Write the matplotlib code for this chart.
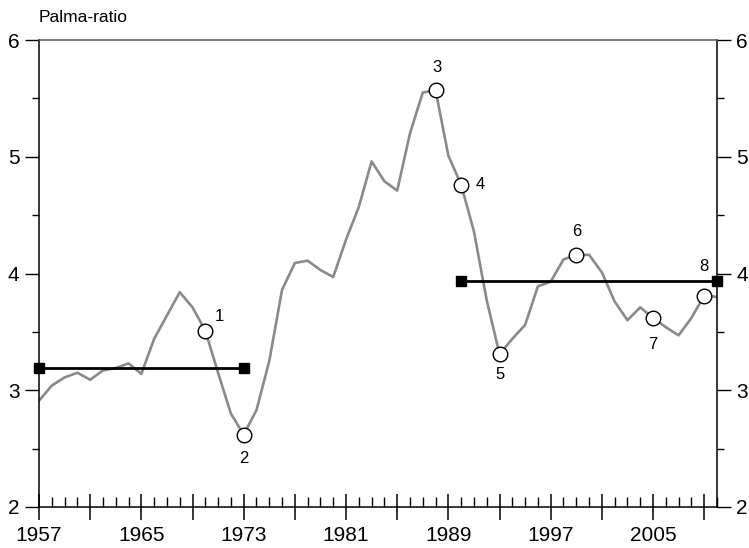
import matplotlib
matplotlib.use('Agg')
import matplotlib.pyplot as plt
from matplotlib.ticker import FixedLocator, MultipleLocator

plt.rcParams['font.family'] = ['Liberation Sans', 'DejaVu Sans']

# Palma-ratio by year
years = list(range(1957, 2011))
palma = [2.91, 3.04, 3.11, 3.15, 3.09, 3.17, 3.19, 3.23, 3.14, 3.44,
         3.64, 3.84, 3.71, 3.51, 3.15, 2.80, 2.62, 2.83, 3.25, 3.86,
         4.09, 4.11, 4.03, 3.97, 4.29, 4.57, 4.96, 4.79, 4.71, 5.20,
         5.55, 5.57, 5.01, 4.76, 4.36, 3.77, 3.31, 3.44, 3.56, 3.89,
         3.93, 4.12, 4.16, 4.16, 4.01, 3.76, 3.60, 3.71, 3.62, 3.54,
         3.47, 3.62, 3.81, 3.80]

# numbered turning points: (year, label, offset in points)
points = [(1970, '1', (10, 10)), (1973, '2', (0, -17)), (1988, '3', (1, 16)),
          (1990, '4', (14, 0)), (1993, '5', (0, -15)), (1999, '6', (0, 17)),
          (2005, '7', (0, -19)), (2009, '8', (0, 21))]

# period averages
avg_spans = [(1957, 1973), (1990, 2010)]
avg_vals = [3.19, 3.935]

fig = plt.figure(figsize=(7.49, 5.48), dpi=100)
ax = fig.add_axes([39 / 749, 1 - 507 / 548, 678 / 749, 467 / 548])

ax.plot(years, palma, color='#8a8a8a', lw=1.9, zorder=2)

for (x0, x1), v in zip(avg_spans, avg_vals):
    ax.plot([x0, x1], [v, v], color='black', lw=2.0, marker='s', ms=7,
            clip_on=False, zorder=3)

for yr, lab, off in points:
    v = palma[years.index(yr)]
    ax.plot(yr, v, marker='o', ms=10.5, mfc='white', mec='black', mew=1.0,
            zorder=4, clip_on=False)
    ax.annotate(lab, (yr, v), xytext=off, textcoords='offset points',
                ha='center', va='center', fontsize=12)

ax.set_xlim(1957, 2010)
ax.set_ylim(2, 6)

# x axis: crossing major ticks every 4 years, labels every 8, minor every year
majors = list(range(1957, 2011, 4))
ax.xaxis.set_major_locator(FixedLocator(majors))
ax.set_xticklabels([str(y) if (y - 1957) % 8 == 0 else '' for y in majors])
ax.xaxis.set_minor_locator(FixedLocator(years))
ax.tick_params(axis='x', which='major', direction='inout', length=19,
               width=1.1, labelsize=15, pad=4)
ax.tick_params(axis='x', which='minor', direction='in', length=7, width=1.0)

# y axis on both sides
ax.yaxis.set_major_locator(MultipleLocator(1))
ax.yaxis.set_minor_locator(MultipleLocator(0.5))
ax.tick_params(axis='y', which='both', direction='out', left=True, right=True,
               labelleft=True, labelright=True, labelsize=15, width=1.0, pad=4)
ax.tick_params(axis='y', which='major', length=10)
ax.tick_params(axis='y', which='minor', length=5)

for s in ['left', 'right', 'bottom']:
    ax.spines[s].set_linewidth(1.1)
ax.spines['top'].set_color('#555555')
ax.spines['top'].set_linewidth(1.1)

fig.text(39 / 749, 1 - 17 / 548, 'Palma-ratio', fontsize=12.5,
         ha='left', va='center')

fig.savefig('out.png', dpi=100)
